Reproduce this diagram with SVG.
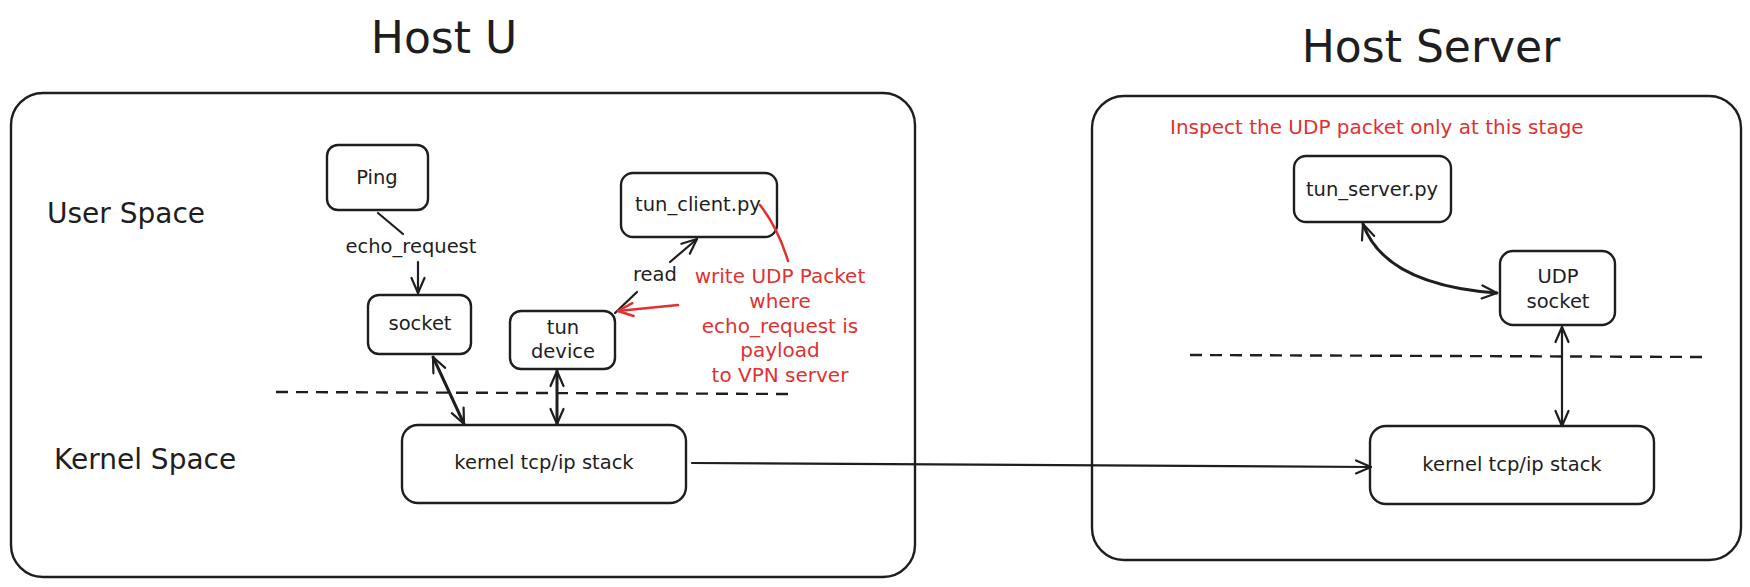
<svg xmlns="http://www.w3.org/2000/svg" width="1750" height="587" viewBox="0 0 1750 587">
<style>
  .bg{fill:#ffffff}
  .frame{fill:none;stroke:#1e1e1e;stroke-width:2.4}
  .node{fill:none;stroke:#1e1e1e;stroke-width:2.4}
  .t{font-family:"DejaVu Sans","Liberation Sans",sans-serif;fill:#1e1e1e;text-anchor:middle}
  .title{font-size:44px}
  .zone{font-size:28px;text-anchor:start}
  .lbl{font-size:19.5px}
  .red{fill:#e03131;font-size:20px}
  .edge{fill:none;stroke:#1e1e1e;stroke-width:2.2;stroke-linecap:round}
  .thick{stroke-width:3}
  .redline{fill:none;stroke:#e03131;stroke-width:2.5;stroke-linecap:round}
  .dash{fill:none;stroke:#1e1e1e;stroke-width:2.4;stroke-dasharray:12 8}
</style>
<defs>
  <marker id="ah" viewBox="0 0 20 20" refX="18" refY="10" markerWidth="20" markerHeight="20" markerUnits="userSpaceOnUse" orient="auto-start-reverse">
    <path d="M3,3.5 L18,10 L3,16.5" fill="none" stroke="#1e1e1e" stroke-width="2.2" stroke-linecap="round" stroke-linejoin="round"/>
  </marker>
  <marker id="ahr" viewBox="0 0 20 20" refX="18" refY="10" markerWidth="20" markerHeight="20" markerUnits="userSpaceOnUse" orient="auto-start-reverse">
    <path d="M3,3.5 L18,10 L3,16.5" fill="none" stroke="#e03131" stroke-width="2.5" stroke-linecap="round" stroke-linejoin="round"/>
  </marker>
</defs>
<rect class="bg" x="0" y="0" width="1750" height="587"/>

<g id="host-u">
  <text class="t title" x="444" y="53">Host U</text>
  <rect class="frame" x="11" y="93" width="904" height="484" rx="32"/>
  <text class="t zone" x="47" y="223">User Space</text>
  <text class="t zone" x="54" y="469">Kernel Space</text>
  <line class="dash" x1="276" y1="392" x2="792" y2="394"/>
</g>

<g id="host-server">
  <text class="t title" x="1431" y="62">Host Server</text>
  <rect class="frame" x="1092" y="96" width="649" height="464" rx="32"/>
  <text class="t red" x="1170" y="134" style="text-anchor:start">Inspect the UDP packet only at this stage</text>
  <line class="dash" x1="1190" y1="355" x2="1704" y2="357"/>
</g>

<g id="ping">
  <rect class="node" x="327" y="145" width="101" height="65" rx="11"/>
  <text class="t lbl" x="377" y="184">Ping</text>
</g>
<g id="socket">
  <rect class="node" x="368" y="295" width="103" height="59" rx="11"/>
  <text class="t lbl" x="420" y="330">socket</text>
</g>
<g id="tun-device">
  <rect class="node" x="510" y="311" width="105" height="58" rx="11"/>
  <text class="t lbl" x="563" y="334">tun</text>
  <text class="t lbl" x="563" y="358">device</text>
</g>
<g id="tun-client">
  <rect class="node" x="621" y="173" width="156" height="64" rx="12"/>
  <text class="t lbl" x="698" y="211">tun_client.py</text>
</g>
<g id="kernel-u">
  <rect class="node" x="402" y="425" width="284" height="78" rx="16"/>
  <text class="t lbl" x="544" y="469">kernel tcp/ip stack</text>
</g>
<g id="tun-server">
  <rect class="node" x="1294" y="156" width="157" height="66" rx="12"/>
  <text class="t lbl" x="1372" y="196">tun_server.py</text>
</g>
<g id="udp-socket">
  <rect class="node" x="1500" y="251" width="115" height="74" rx="13"/>
  <text class="t lbl" x="1558" y="283">UDP</text>
  <text class="t lbl" x="1558" y="308">socket</text>
</g>
<g id="kernel-server">
  <rect class="node" x="1370" y="426" width="284" height="78" rx="16"/>
  <text class="t lbl" x="1512" y="471">kernel tcp/ip stack</text>
</g>

<g id="red-note">
  <path class="redline" d="M760,205 Q778,228 788,261"/>
  <text class="t red" x="780" y="283">write UDP Packet</text>
  <text class="t red" x="780" y="308">where</text>
  <text class="t red" x="780" y="333">echo_request is</text>
  <text class="t red" x="780" y="357">payload</text>
  <text class="t red" x="780" y="382">to VPN server</text>
</g>

<g id="connectors">
  <line class="edge" x1="378" y1="213" x2="403" y2="234"/>
  <text class="t lbl" x="411" y="253">echo_request</text>
  <line class="edge" x1="418" y1="262" x2="418" y2="293" marker-end="url(#ah)"/>

  <line class="edge" x1="615" y1="313" x2="637" y2="292"/>
  <line class="edge" x1="670" y1="262" x2="697" y2="239" marker-end="url(#ah)"/>
  <text class="t lbl" x="655" y="281">read</text>

  <line class="redline" x1="678" y1="305" x2="618" y2="311" marker-end="url(#ahr)"/>

  <line class="edge thick" x1="433" y1="357" x2="464" y2="424" marker-start="url(#ah)" marker-end="url(#ah)"/>
  <line class="edge thick" x1="557" y1="371" x2="557" y2="424" marker-start="url(#ah)" marker-end="url(#ah)"/>

  <path class="edge" d="M692,463 L1371,467" marker-end="url(#ah)"/>

  <path class="edge thick" d="M1363,224 Q1385,285 1497,293" marker-start="url(#ah)" marker-end="url(#ah)"/>
  <line class="edge" x1="1562" y1="327" x2="1562" y2="426" marker-start="url(#ah)" marker-end="url(#ah)"/>
</g>
</svg>
